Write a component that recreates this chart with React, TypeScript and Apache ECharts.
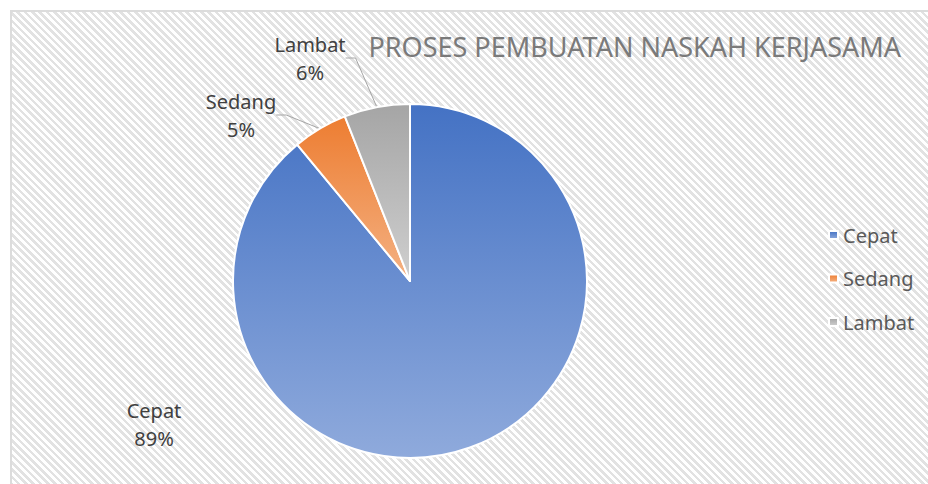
import React, { useEffect, useRef } from "react";
import * as echarts from "echarts";

const titleText = "PROSES PEMBUATAN NASKAH KERJASAMA";
const categories = ["Cepat", "Sedang", "Lambat"];
const values = [89, 5, 6];
const topColors = ["#4472C4", "#ED7D31", "#A5A5A5"];
const bottomColors = ["#8FAADC", "#F4B183", "#CFCFCF"];

const FONT = "'Noto Sans', 'Open Sans', sans-serif";

export default function App() {
  const ref = useRef<HTMLDivElement>(null);
  useEffect(() => {
    if (!ref.current) return;
    const chart = echarts.init(ref.current, null, { renderer: "svg" });
    const labelPos: Record<number, [number, number]> = {
      0: [154, 424],
      1: [241, 115],
      2: [310, 58],
    };
    const data = categories.map((name, i) => ({
      name,
      value: values[i],
      itemStyle: {
        color: new echarts.graphic.LinearGradient(0, 0, 0, 1, [
          { offset: 0, color: topColors[i] },
          { offset: 1, color: bottomColors[i] },
        ]),
      },
      labelLine: { show: i !== 0 },
    }));
    chart.setOption({
      animation: false,
      backgroundColor: "transparent",
      title: {
        text: titleText,
        right: 22,
        top: 28,
        textStyle: {
          fontFamily: FONT,
          fontSize: 27,
          fontWeight: "normal",
          color: "#7a7a7a",
        },
      },
      legend: {
        orient: "vertical",
        left: 823,
        top: 220,
        itemWidth: 9,
        itemHeight: 8,
        itemGap: 23.5,
        icon: "rect",
        data: categories,
        textStyle: {
          fontFamily: FONT,
          fontSize: 20,
          color: "#595959",
        },
      },
      series: [
        {
          type: "pie",
          center: [410, 281],
          radius: 177,
          startAngle: 90,
          clockwise: true,
          data,
          itemStyle: { borderColor: "#ffffff", borderWidth: 2 },
          label: {
            show: true,
            formatter: "{b}\n{d}%",
            fontFamily: FONT,
            fontSize: 20,
            lineHeight: 28,
            color: "#404040",
            align: "center",
          },
          labelLine: {
            show: true,
            length: 12,
            length2: 10,
            lineStyle: { color: "#a6a6a6", width: 1 },
          },
          labelLayout: (params: any) => {
            const p = labelPos[params.dataIndex];
            return {
              x: p[0],
              y: p[1],
              align: "center",
              verticalAlign: "middle",
            };
          },
        },
      ],
    });
    return () => chart.dispose();
  }, []);

  return (
    <div
      style={{
        position: "absolute",
        left: 0,
        top: 0,
        width: 928,
        height: 484,
        overflow: "hidden",
        background: "#ffffff",
      }}
    >
      <div
        style={{
          position: "absolute",
          left: 10,
          top: 10,
          width: 940,
          height: 500,
          border: "2px solid #dcdcdc",
          background:
            "repeating-linear-gradient(45deg, #ffffff 0px, #ffffff 2.6px, #e2e2e2 2.6px, #e2e2e2 5.2px)",
        }}
      />
      <div
        ref={ref}
        style={{ position: "absolute", left: 0, top: 0, width: 928, height: 484 }}
      />
    </div>
  );
}
